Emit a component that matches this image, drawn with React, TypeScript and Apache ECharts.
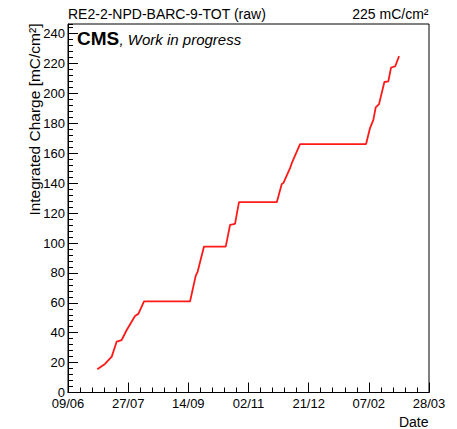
import React, { useEffect, useRef } from "react";
import * as echarts from "echarts";

// days since 09/06 (start of the x axis)
const dayOffsets = [
  23.7, 29.9, 35.4, 39.4, 43.4, 47.5, 54.2, 56.9, 61.5, 98.7,
  103.3, 104.9, 110.0, 127.6, 131.1, 135.1, 138.3, 168.9,
  172.9, 174.2, 179.6, 181.0, 187.7, 241.1,
  244.3, 247.0, 248.9, 251.6, 255.9, 259.1, 261.3, 264.6, 267.8,
];
// integrated charge [mC/cm^2]
const charge = [
  15.5, 19.1, 24.0, 34.1, 35.1, 41.8, 51.2, 52.6, 60.9, 60.9,
  78.0, 80.9, 97.6, 97.6, 112.1, 112.8, 127.3, 127.3,
  139.4, 140.1, 150.1, 153.4, 166.2, 166.2,
  176.9, 182.4, 190.7, 192.9, 207.7, 208.1, 217.4, 218.1, 225.0,
];
const xTickLabels = ["09/06", "27/07", "14/09", "02/11", "21/12", "07/02", "28/03"];
const totalDays = 292;
const yMax = 246.5;
const titleText = "RE2-2-NPD-BARC-9-TOT (raw)";
const totalText = "225 mC/cm²";
const yTitle = "Integrated Charge [mC/cm²]";
const xTitle = "Date";

const FONT = "'Liberation Sans', Arial, Helvetica, sans-serif";

export default function App() {
  const ref = useRef<HTMLDivElement>(null);
  useEffect(() => {
    if (!ref.current) return;
    const chart = echarts.init(ref.current, undefined, { renderer: "svg" });
    const totalHours = totalDays * 24;
    const majorHours = totalHours / (xTickLabels.length - 1);
    const data = dayOffsets.map((d, i) => [d * 24, charge[i]]);
    chart.setOption({
      animation: false,
      backgroundColor: "#fff",
      grid: {
        left: 68,
        top: 24,
        width: 361,
        height: 368.5,
        show: true,
        borderColor: "#000",
        borderWidth: 1,
        backgroundColor: "transparent",
      },
      xAxis: [
        {
          type: "value",
          min: 0,
          max: totalHours,
          interval: majorHours,
          axisLine: { show: true, lineStyle: { color: "#000", width: 1 } },
          axisTick: { show: true, inside: true, length: 10, lineStyle: { color: "#000", width: 1 } },
          minorTick: { show: true, splitNumber: 5, length: 5, lineStyle: { color: "#000", width: 1 } },
          splitLine: { show: false },
          minorSplitLine: { show: false },
          axisLabel: {
            formatter: (v: number) => xTickLabels[Math.round(v / majorHours)] ?? "",
            margin: 4,
            fontSize: 13,
            color: "#000",
            fontFamily: FONT,
          },
        },
      ],
      yAxis: [
        {
          type: "value",
          min: 0,
          max: yMax,
          interval: 20,
          axisLine: { show: true, lineStyle: { color: "#000", width: 1 } },
          axisTick: { show: true, inside: true, length: 10, lineStyle: { color: "#000", width: 1 } },
          splitLine: { show: false },
          axisLabel: {
            showMaxLabel: false,
            margin: 3,
            fontSize: 13,
            color: "#000",
            fontFamily: FONT,
          },
        },
        {
          type: "value",
          min: 0,
          max: yMax,
          interval: 4,
          position: "left",
          offset: 0,
          axisLine: { show: false },
          axisTick: { show: true, inside: true, length: 5, lineStyle: { color: "#000", width: 1 } },
          splitLine: { show: false },
          axisLabel: { show: false },
        },
      ],
      series: [
        {
          type: "line",
          data,
          yAxisIndex: 0,
          showSymbol: false,
          symbol: "none",
          lineStyle: { color: "#ff1a1a", width: 1.8 },
          silent: true,
        },
      ],
      graphic: [
        {
          type: "text",
          x: 68,
          y: 13.5,
          style: { text: titleText, font: `14px ${FONT}`, fill: "#000", align: "left", verticalAlign: "middle" },
        },
        {
          type: "text",
          x: 428.5,
          y: 13.5,
          style: { text: totalText, font: `14px ${FONT}`, fill: "#000", align: "right", verticalAlign: "middle" },
        },
        {
          type: "text",
          x: 77,
          y: 38.5,
          style: { text: "CMS", font: `bold 19px ${FONT}`, fill: "#000", align: "left", verticalAlign: "middle" },
        },
        {
          type: "text",
          x: 119.5,
          y: 39.8,
          style: { text: ", Work in progress", font: `italic 15px ${FONT}`, fill: "#000", align: "left", verticalAlign: "middle" },
        },
        {
          type: "text",
          x: 34.5,
          y: 23.5,
          rotation: Math.PI / 2,
          style: { text: yTitle, font: `15.5px ${FONT}`, fill: "#000", align: "right", verticalAlign: "middle" },
        },
        {
          type: "text",
          x: 428.5,
          y: 421.8,
          style: { text: xTitle, font: `14px ${FONT}`, fill: "#000", align: "right", verticalAlign: "middle" },
        },
      ],
    });
    return () => chart.dispose();
  }, []);
  return (
    <div
      ref={ref}
      style={{ position: "fixed", left: 0, top: 0, width: 457, height: 429 }}
    />
  );
}
